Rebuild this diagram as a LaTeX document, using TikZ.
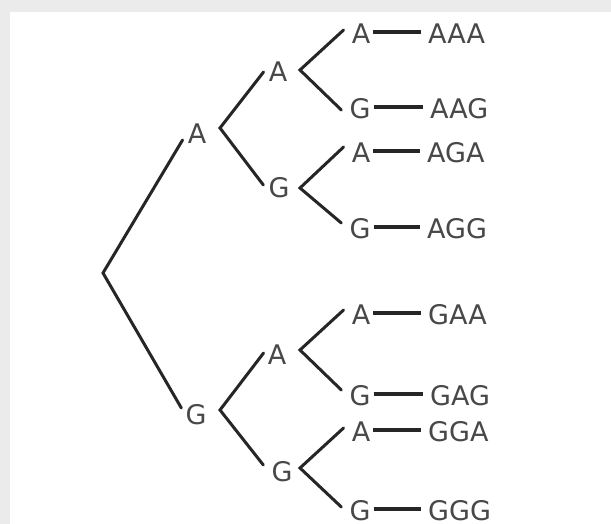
\documentclass[tikz,border=0pt]{standalone}
\usepackage{fontspec}
\setmainfont{DejaVu Sans}
\usetikzlibrary{calc}
\definecolor{bgray}{RGB}{235,235,236}
\definecolor{linec}{RGB}{38,38,38}
\definecolor{textc}{RGB}{72,72,72}
\begin{document}
\begin{tikzpicture}[x=1pt,y=-1pt,
  lbl/.style={inner sep=0pt, text=textc, font=\fontsize{27}{27}\selectfont},
  word/.style={lbl, anchor=west},
  branch/.style={draw=linec, line width=3pt, line cap=round, line join=miter},
  tie/.style={draw=linec, line width=3.5pt}]
\useasboundingbox (0,0) rectangle (611,524);
\fill[bgray] (0,0) rectangle (611,524);
\fill[white] (10,12) rectangle (611,524);
% fork points
\coordinate (r) at (103,273);
\coordinate (fa) at (220,128);
\coordinate (fg) at (220,410);
\coordinate (faa) at (300,70);
\coordinate (fag) at (300,188);
\coordinate (fga) at (300,350);
\coordinate (fgg) at (300,468);
% level 1
\node[lbl] (a) at (197,134) {A};
\node[lbl] (g) at (196,415) {G};
% level 2
\node[lbl] (aa) at (278,72) {A};
\node[lbl] (ag) at (279,188) {G};
\node[lbl] (ga) at (277,355) {A};
\node[lbl] (gg) at (282,472) {G};
% level 3
\node[lbl] (aaa1) at (361,34) {A};
\node[lbl] (aag1) at (360,109) {G};
\node[lbl] (aga1) at (361,153) {A};
\node[lbl] (agg1) at (360,229) {G};
\node[lbl] (gaa1) at (361,315) {A};
\node[lbl] (gag1) at (360,396) {G};
\node[lbl] (gga1) at (361,432) {A};
\node[lbl] (ggg1) at (360,511) {G};
% words
\node[word] (aaa) at (428,34) {AAA};
\node[word] (aag) at (430,109) {AAG};
\node[word] (aga) at (427,153) {AGA};
\node[word] (agg) at (427,229) {AGG};
\node[word] (gaa) at (428,315) {GAA};
\node[word] (gag) at (430,396) {GAG};
\node[word] (gga) at (428,432) {GGA};
\node[word] (ggg) at (428,511) {GGG};
% branches
\draw[branch] ($(a.west)+(-5,6)$) -- (r) -- ($(g.west)+(-4,-7)$);
\draw[branch] ($(aa.west)+(-5,0)$) -- (fa) -- ($(ag.west)+(-5,-3)$);
\draw[branch] ($(ga.west)+(-4,-2)$) -- (fg) -- ($(gg.west)+(-8,-7)$);
\draw[branch] ($(aaa1.west)+(-8,-4)$) -- (faa) -- ($(aag1.west)+(-8,1)$);
\draw[branch] ($(aga1.west)+(-8,-6)$) -- (fag) -- ($(agg1.west)+(-8,-6)$);
\draw[branch] ($(gaa1.west)+(-8,-5)$) -- (fga) -- ($(gag1.west)+(-8,-6)$);
\draw[branch] ($(gga1.west)+(-8,-4)$) -- (fgg) -- ($(ggg1.west)+(-8,-4)$);
% ties
\foreach \l/\w in {aaa1/aaa, aag1/aag, aga1/aga, agg1/agg, gaa1/gaa, gag1/gag, gga1/gga, ggg1/ggg}
  \draw[tie] ($(\l.east)+(3,-2)$) -- ($(\w.west |- \l.east)+(-7,-2)$);
\end{tikzpicture}
\end{document}
